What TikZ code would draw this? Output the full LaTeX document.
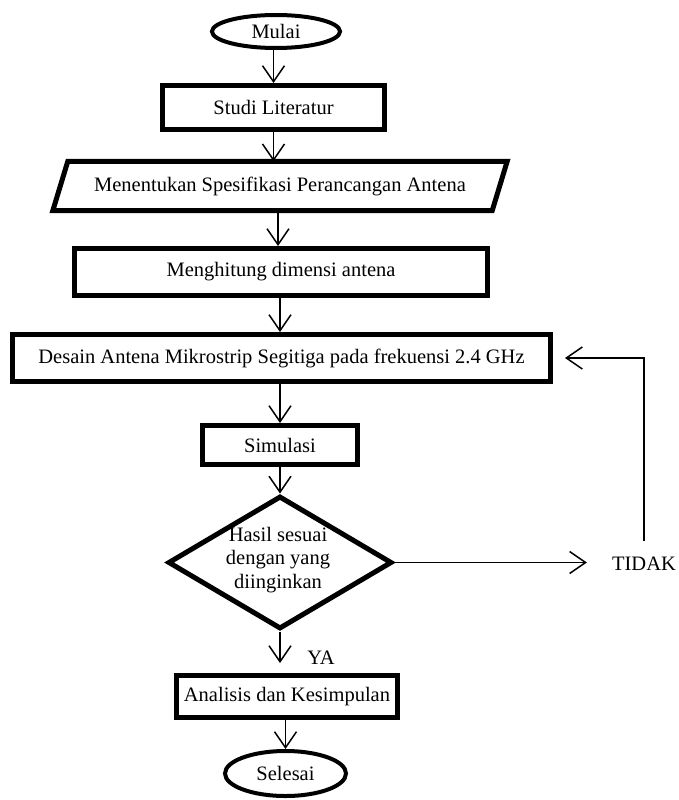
\documentclass[tikz,border=0pt]{standalone}
\usepackage{fontspec}
\setmainfont{Liberation Serif}
\usetikzlibrary{shapes.geometric,arrows.meta}
\begin{document}
\begin{tikzpicture}[x=1pt,y=-1pt,
  font=\fontsize{20.5}{23.5}\selectfont,
  box/.style={draw, line width=5pt, rectangle, inner sep=0pt},
  term/.style={draw, line width=4pt, ellipse, inner sep=0pt},
  conn/.style={line width=1.5pt, -{Straight Barb[length=16pt,width=22pt]}},
  lbl/.style={inner sep=0pt}
]
\useasboundingbox (0,0) rectangle (678,800);
% nodes
\node[term, minimum width=128pt, minimum height=33pt] (mulai) at (276,31.5) {Mulai};
\node[box, minimum width=222pt, minimum height=44pt] (studi) at (273.5,107.5) {Studi Literatur};
\node[lbl, minimum width=439pt, minimum height=49pt] (spec) at (280,186) {Menentukan Spesifikasi Perancangan Antena};
\draw[line width=5pt, line join=miter] ([xshift=7.5pt]spec.north west) -- ([xshift=7.5pt]spec.north east)
  -- ([xshift=-7.5pt]spec.south east) -- ([xshift=-7.5pt]spec.south west) -- cycle;
\node[box, minimum width=413pt, minimum height=47pt] (hitung) at (281,272) {Menghitung dimensi antena};
\node[box, minimum width=538pt, minimum height=47pt] (desain) at (281.5,358) {Desain Antena Mikrostrip Segitiga pada frekuensi 2.4 GHz};
\node[box, minimum width=155pt, minimum height=39pt] (sim) at (280,445) {Simulasi};
\node[draw, line width=5pt, diamond, inner sep=0pt, minimum width=224pt, minimum height=133pt] (dec) at (280,562.5) {};
\node[lbl, align=center] (dectext) at (278,560) {Hasil sesuai\\dengan yang\\diinginkan};
\node[box, minimum width=221pt, minimum height=42pt] (ana) at (287,696.5) {Analisis dan Kesimpulan};
\node[term, minimum width=121pt, minimum height=45pt] (selesai) at (285.5,773.5) {Selesai};
\node[lbl] (tidak) at (644,564) {TIDAK};
\node[lbl] (ya) at (321,658) {YA};
% connectors
\draw[conn] (mulai.south -| studi) -- (studi.north);
\draw[conn] (studi.south) -- (studi.south |- spec.north);
\draw[conn] ([xshift=-2pt]spec.south) -- ([xshift=-2pt]spec.south |- hitung.north);
\draw[conn] ([xshift=-1pt]hitung.south) -- ([xshift=-1pt]hitung.south |- desain.north);
\draw[conn] (sim.north |- desain.south) -- (sim.north);
\draw[conn] (sim.south) -- (dec.north);
\draw[conn, shorten >=10pt] (dec.south) -- (dec.south |- ana.north);
\draw[conn] (ana.south -| selesai) -- (selesai.north);
\draw[conn, shorten >=25pt] (dec.east) -- (dec.east -| tidak.west);
\draw[conn, shorten <=16pt, shorten >=12pt] (tidak.north) |- (desain.east);
\end{tikzpicture}
\end{document}
